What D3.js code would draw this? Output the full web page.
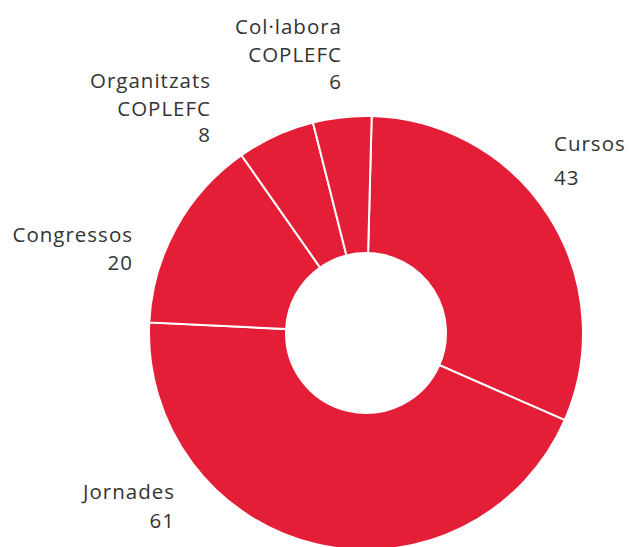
<!DOCTYPE html>
<html>
<head>
<meta charset="utf-8">
<script src="https://cdn.jsdelivr.net/npm/d3@7"></script>
<style>
  html, body { margin: 0; padding: 0; background: #fff; overflow: hidden; }
  text { font-family: "Open Sans", sans-serif; fill: #333; }
</style>
</head>
<body>
<div id="chart"></div>
<script>
// data
var categories = ["Cursos", "Jornades", "Congressos", "Organitzats COPLEFC", "Col·labora COPLEFC"];
var values = [43, 61, 20, 8, 6];

// label layout: anchor x, baselines of each line, side
var labelLayout = {
  "Cursos":              { x: 554, ys: [151, 185], anchor: "start" },
  "Jornades":            { x: 175, ys: [499, 528], anchor: "end" },
  "Congressos":          { x: 133, ys: [242, 270], anchor: "end" },
  "Organitzats COPLEFC": { x: 211, ys: [88, 116, 142], anchor: "end" },
  "Col·labora COPLEFC":  { x: 342, ys: [34, 62, 89], anchor: "end" }
};

var width = 635;
var height = 547;
var cx = 366, cy = 333;
var outerR = 217, innerR = 80;

var svg = d3.select("#chart")
  .append("svg")
  .attr("width", width)
  .attr("height", height);

var g = svg.append("g")
  .attr("transform", "translate(" + cx + "," + cy + ")");

var pie = d3.pie()
  .sort(null)
  .startAngle(Math.PI / 180 * 1.5)
  .endAngle(Math.PI * 2 + Math.PI / 180 * 1.5)
  .value(function(d) { return d.value; });

var arc = d3.arc()
  .innerRadius(innerR)
  .outerRadius(outerR);

var data_ready = pie(categories.map(function(c, i) { return { name: c, value: values[i] }; }));

g.selectAll("path")
  .data(data_ready)
  .enter()
  .append("path")
  .attr("d", arc)
  .attr("fill", "#e51e37")
  .attr("stroke", "#fff")
  .attr("stroke-width", 2);

// labels
data_ready.forEach(function(d) {
  var lay = labelLayout[d.data.name];
  var lines = d.data.name.split(" ").concat([String(d.data.value)]);
  var t = svg.append("text")
    .attr("text-anchor", lay.anchor)
    .style("font-size", "20.5px")
    .style("font-weight", 400)
    .style("letter-spacing", "1px");
  lines.forEach(function(line, i) {
    t.append("tspan")
      .attr("x", lay.x)
      .attr("y", lay.ys[i])
      .text(line);
  });
});
</script>
</body>
</html>
